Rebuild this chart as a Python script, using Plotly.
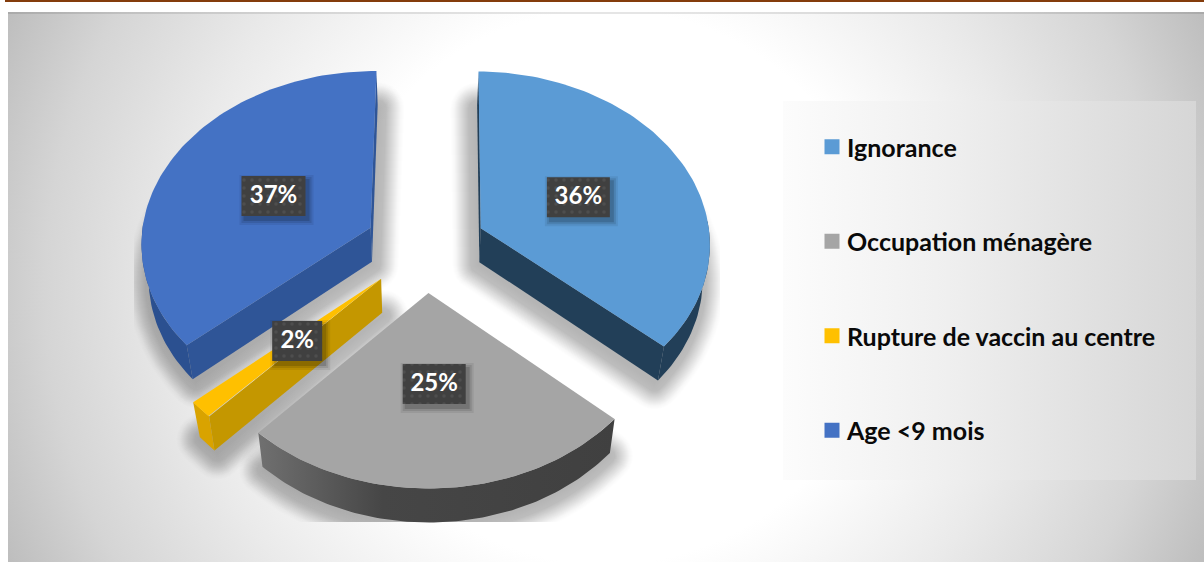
import base64
import numpy as np
import plotly.graph_objects as go

categories = ["Ignorance", "Occupation ménagère", "Rupture de vaccin au centre", "Age <9 mois"]
values = [36.4, 25.4, 1.6, 36.6]
labels = ["36%", "25%", "2%", "37%"]
top_colors = ["#5B9BD5", "#A5A5A5", "#FFC000", "#4472C4"]
side_colors = ["#223F58", "#444444", "#C49700", "#2F5597"]
outer_colors = ["#223F58", "#444444", "#D9A300", "#2B5090"]

W, H = 1204, 562
X0, Y0, A, B, P = 425.5, 246.5, 230.0, 172.0, 0.08
EXPLODE, DEPTH, SHRINK = 0.265, 34.0, 0.975
ROTATION = np.radians(0.5)


def project(u, v, lower=False):
    s = 1 + P * v
    x = X0 + A * u / s
    y = Y0 - B * v / s
    if lower:
        x = X0 + (x - X0) * SHRINK
        y = y + DEPTH
    return x, y


def convex_hull(px, py):
    pts = sorted(set(zip(np.round(px, 2).tolist(), np.round(py, 2).tolist())))

    def half(points):
        out = []
        for p in points:
            while len(out) > 1 and (out[-1][0] - out[-2][0]) * (p[1] - out[-2][1]) - \
                    (out[-1][1] - out[-2][1]) * (p[0] - out[-2][0]) <= 0:
                out.pop()
            out.append(p)
        return out[:-1]

    hull = half(pts) + half(pts[::-1])
    return [p[0] for p in hull], [p[1] for p in hull]


def grown(x, y, r):
    """Outline of a convex shape grown by r px, with rounded corners."""
    t = np.linspace(0, 2 * np.pi, 24, endpoint=False)
    px = (x[:, None] + r * np.cos(t)[None, :]).ravel()
    py = (y[:, None] + r * np.sin(t)[None, :]).ravel()
    return convex_hull(px, py)


def shadow_alpha(r):
    if r < 8:
        return 0.005
    if r <= 22:
        return 0.016
    return 0.006


fracs = np.array(values) / sum(values) * 2 * np.pi
ends = np.cumsum(fracs) + ROTATION
starts = ends - fracs

fig = go.Figure()


def poly(x, y, color, axes="2", **kw):
    x, y = list(x), list(y)
    fig.add_trace(go.Scatter(
        x=x + [x[0]], y=y + [y[0]], mode="lines", fill="toself",
        fillcolor=color, line=dict(width=0), hoverinfo="skip", showlegend=False,
        xaxis="x" + axes if axes else "x", yaxis="y" + axes if axes else "y", **kw))


def cross(ax_, ay_, bx_, by_, cx_, cy_):
    return (bx_ - ax_) * (cy_ - ay_) - (by_ - ay_) * (cx_ - ax_)


slices = []
for s, e in zip(starts, ends):
    m = (s + e) / 2
    th = np.linspace(s, e, 90)
    ax, av = EXPLODE * np.sin(m), EXPLODE * np.cos(m)
    us = np.r_[ax, ax + np.sin(th)]
    vs = np.r_[av, av + np.cos(th)]
    slices.append((us, vs, m, ax, av, th))

# soft shadows: stacked translucent outlines, clipped to the chart's own box (first axis pair)
for us, vs, m, ax, av, th in slices:
    x, y = project(us, vs, lower=True)
    x = X0 + (x - X0) * 0.985
    y = y + 3
    for r in range(26, 0, -1):
        hx, hy = grown(x, y, r)
        poly(hx, hy, f"rgba(0,0,0,{shadow_alpha(r):.4f})", axes="")

# legend panel
poly([783, 1196, 1196, 783], [101, 101, 480, 480], "#eeeeee",
     fillgradient=dict(type="horizontal", colorscale=[[0, "#fcfcfc"], [0.4, "#efefef"], [1, "#d6d6d6"]]))

# pie slices: only viewer-facing walls, then the top face
for i, (us, vs, m, ax, av, th) in enumerate(slices):
    xt, yt = project(us, vs)
    xb, yb = project(us, vs, lower=True)
    mid = len(xt) // 2
    for c in (1, len(xt) - 1):
        lx, ly = (xb[0] + xb[c]) / 2, (yb[0] + yb[c]) / 2
        inner = cross(xt[0], yt[0], xt[c], yt[c], xt[mid], yt[mid])
        if cross(xt[0], yt[0], xt[c], yt[c], lx, ly) * inner < 0:
            poly([xt[0], xt[c], xb[c], xb[0]], [yt[0], yt[c], yb[c], yb[0]], side_colors[i])
    front = np.cos(th) < 0.05
    ox = np.r_[xt[1:][front], xb[1:][front][::-1]]
    oy = np.r_[yt[1:][front], yb[1:][front][::-1]]
    if categories[i].startswith("Occupation"):
        poly(ox, oy, outer_colors[i], fillgradient=dict(
            type="horizontal",
            colorscale=[[0, "#707070"], [0.35, "#464646"], [1, "#404040"]]))
    else:
        poly(ox, oy, outer_colors[i])
    poly(xt, yt, top_colors[i])

# data labels
BW = {"36%": 63, "25%": 63, "2%": 50, "37%": 64}
BH = 40
for i, (us, vs, m, ax, av, th) in enumerate(slices):
    cx, cy = project(ax + 0.48 * np.sin(m), av + 0.48 * np.cos(m))
    cy += 1.5
    hw = BW[labels[i]] / 2
    hh = BH / 2
    for grow, alpha in [(5, 0.07), (3, 0.1), (1, 0.15)]:
        poly([cx - hw + 3 - grow, cx + hw + 3 + grow, cx + hw + 3 + grow, cx - hw + 3 - grow],
             [cy - hh + 4 - grow, cy - hh + 4 - grow, cy + hh + 4 + grow, cy + hh + 4 + grow],
             f"rgba(0,0,0,{alpha})")
    poly([cx - hw, cx + hw, cx + hw, cx - hw], [cy - hh, cy - hh, cy + hh, cy + hh], "#404040",
         fillpattern=dict(shape=".", bgcolor="#404040", fgcolor="#5c5c5c", size=8, solidity=0.15))
    fig.add_trace(go.Scatter(
        x=[cx], y=[cy + 1], mode="text", text=[labels[i]], textposition="middle center",
        textfont=dict(family="Lato", size=24, color="white", weight=700),
        hoverinfo="skip", showlegend=False, xaxis="x2", yaxis="y2"))

# legend entries
for i, c in enumerate(categories):
    fig.add_trace(go.Scatter(
        x=[None], y=[None], mode="markers", name=c, legendgroup=c,
        marker=dict(symbol="square", size=15, color=top_colors[i]),
        xaxis="x2", yaxis="y2"))

svg = (
    f'<svg xmlns="http://www.w3.org/2000/svg" width="{W}" height="{H}">'
    '<defs><radialGradient id="g" gradientUnits="userSpaceOnUse" cx="606" cy="287" r="660">'
    '<stop offset="0.42" stop-color="#ffffff"/><stop offset="0.65" stop-color="#eaeaea"/>'
    '<stop offset="0.85" stop-color="#d5d5d5"/><stop offset="1" stop-color="#bdbdbd"/>'
    '</radialGradient></defs>'
    f'<rect width="{W}" height="{H}" fill="#ffffff"/>'
    f'<rect x="8" y="12" width="{W - 8}" height="{H - 12}" fill="url(#g)"/>'
    f'<rect x="8" y="12" width="{W - 8}" height="2" fill="#000000" fill-opacity="0.1"/>'
    f'<rect x="5" y="0" width="{W - 5}" height="2" fill="#843C0C"/></svg>'
)
src = "data:image/svg+xml;base64," + base64.b64encode(svg.encode()).decode()

hidden = dict(visible=False, showgrid=False, zeroline=False, fixedrange=True)
fig.update_layout(
    width=W, height=H, margin=dict(l=0, r=0, t=0, b=0, pad=0),
    paper_bgcolor="white", plot_bgcolor="rgba(0,0,0,0)",
    images=[dict(source=src, xref="paper", yref="paper", x=0, y=1, sizex=1, sizey=1,
                 sizing="stretch", xanchor="left", yanchor="top", layer="below")],
    xaxis=dict(domain=[134 / W, 720 / W], range=[134, 720], **hidden),
    yaxis=dict(domain=[1 - 522 / H, 1], range=[522, 0], **hidden),
    xaxis2=dict(domain=[0, 1], range=[0, W], **hidden),
    yaxis2=dict(domain=[0, 1], range=[H, 0], **hidden),
    showlegend=True,
    legend=dict(x=807 / W, y=1 - 124 / H, xanchor="left", yanchor="top",
                bgcolor="rgba(0,0,0,0)", borderwidth=0, tracegroupgap=59,
                font=dict(family="Lato", size=25, color="#0a0a0a", weight=700)),
)

post = """
document.body.style.margin='0';
document.body.style.overflow='hidden';
document.querySelectorAll('.legendpoints').forEach(function(g){g.setAttribute('transform','translate(5,0)');});
"""
fig.write_html("out.html", config={"displayModeBar": False}, post_script=post)
